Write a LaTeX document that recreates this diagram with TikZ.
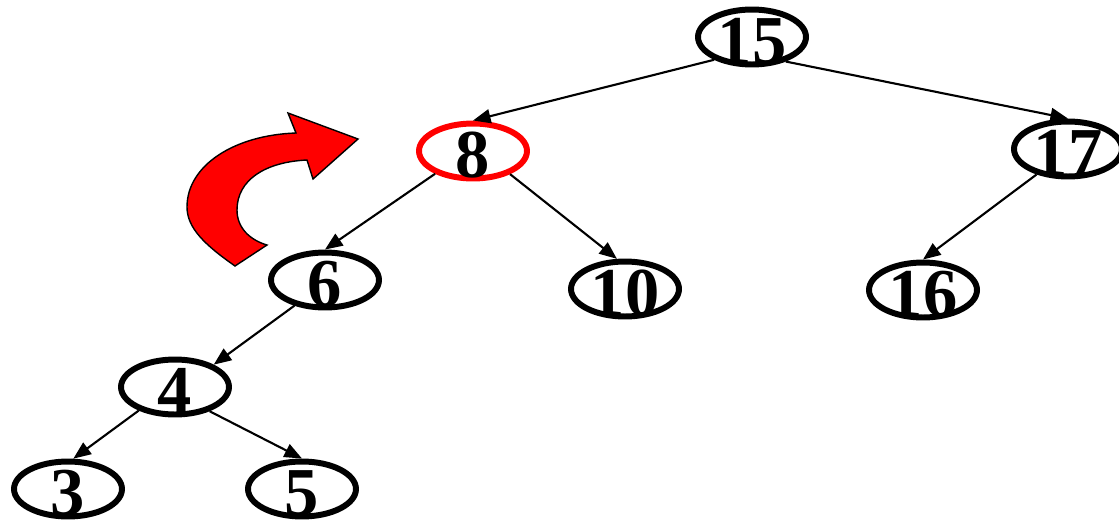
\documentclass[tikz,border=0pt]{standalone}
\usepackage{fontspec}
\setmainfont{Liberation Serif}
\usetikzlibrary{shapes.geometric,arrows.meta}

\begin{document}
\begin{tikzpicture}[x=0.02cm, y=-0.02cm, >={Triangle[length=10pt,width=8pt]},
	key/.style={ellipse, draw, line width=3.4pt, minimum width=2.16cm, minimum height=1.1cm,
		inner xsep=0pt, inner ysep=-6pt, text height=30pt, text depth=0pt,
		font=\fontsize{39}{39}\selectfont\bfseries},
	pivot/.style={key, draw=red},
	link/.style={->, line width=1.2pt}]
	\useasboundingbox (0,0) rectangle (1119,531);

	\node[key] (n15) at (752,37) {15};
	\node[pivot] (n8) at (473,151) {8};
	\node[key] (n17) at (1068,149) {17};
	\node[key] (n6) at (325,280) {6};
	\node[key] (n10) at (625,289) {10};
	\node[key] (n16) at (923,290) {16};
	\node[key] (n4) at (175,387) {4};
	\node[key] (n3) at (68,489) {3};
	\node[key] (n5) at (302,489) {5};

	\draw[link] (n15.211) -- (n8.north);
	\draw[link] (n15.324) -- (n17.north);
	\draw[link] (n8.211) -- (n6.north);
	\draw[link] (n8.328) -- (n10.105);
	\draw[link] (n17.219) -- (n16.north);
	\draw[link] (n6.220) -- (n4.30);
	\draw[link] (n4.213) -- (n3.80);
	\draw[link] (n4.325) -- (n5.north);

	% rotation arrow
	\draw[fill=red, line width=0.8pt, line join=miter]
		(235,266) .. controls (205,245) and (187,228) .. (187,207)
		.. controls (187,165) and (235,135) .. (296,133)
		-- (288,113) -- (358,139) -- (313,179) -- (307,160)
		.. controls (265,162) and (237,180) .. (237,210)
		.. controls (237,228) and (250,240) .. (267,245) -- cycle;
\end{tikzpicture}
\end{document}
